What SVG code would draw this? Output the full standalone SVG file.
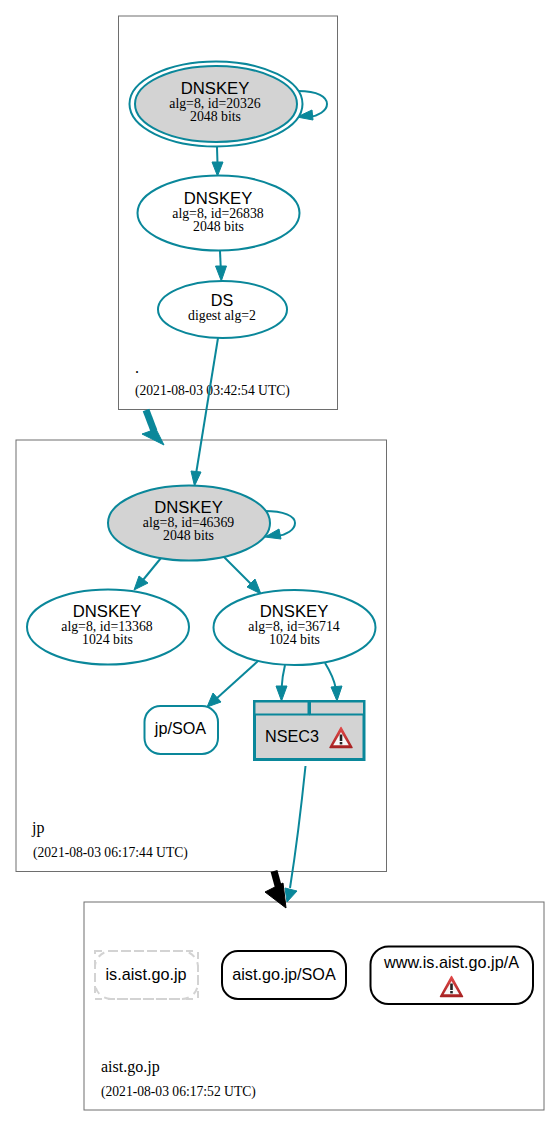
<svg xmlns="http://www.w3.org/2000/svg" width="560" height="1126" viewBox="0 0 560 1126">
<style>
.bg{fill:#fff}
.cl{fill:#fff;stroke:#6e6e6e;stroke-width:1}
.n{fill:#fff;stroke:#0a879a;stroke-width:2}
.g{fill:#d3d3d3;stroke:#0a879a;stroke-width:2}
.e{fill:none;stroke:#0a879a;stroke-width:2}
.h{fill:#0a879a;stroke:#0a879a;stroke-width:1}
.s{font-family:"Liberation Sans",Arial,sans-serif;font-size:16.200px;fill:#000;text-anchor:middle}
.k{font-size:16.700px}
.t{font-family:"Liberation Serif","Times New Roman",serif;font-size:13.800px;fill:#000;text-anchor:middle}
.l{font-family:"Liberation Serif","Times New Roman",serif;font-size:13.600px;fill:#000}
.l2{font-family:"Liberation Serif","Times New Roman",serif;font-size:16px;fill:#000}
</style>
<defs>
<linearGradient id="wg" x1="0" y1="0" x2="0" y2="1">
<stop offset="0" stop-color="#e04848"/>
<stop offset="1" stop-color="#a82222"/>
</linearGradient>
<g id="warn">
<polygon points="0,-10.500 11,9.500 -11,9.500" fill="url(#wg)" stroke="url(#wg)" stroke-width="1.500" stroke-linejoin="round"/>
<polygon points="0,-6 7.800,7.300 -7.800,7.300" fill="#f7f7f7"/>
<rect x="-1.300" y="-3.500" width="2.600" height="6.500" fill="#222"/>
<rect x="-1.300" y="4" width="2.600" height="2.400" fill="#222"/>
</g>
</defs>
<rect class="bg" width="560" height="1126"/>
<g id="clusters">
<rect class="cl" x="118.500" y="16" width="219" height="393.500"/>
<rect class="cl" x="16" y="440" width="370.500" height="431.500"/>
<rect class="cl" x="84" y="902" width="460" height="208"/>
<text class="l2" x="135" y="373">.</text>
<text class="l" x="135" y="395">(2021-08-03 03:42:54 UTC)</text>
<text class="l2" x="32" y="833">jp</text>
<text class="l" x="33" y="857">(2021-08-03 06:17:44 UTC)</text>
<text class="l2" x="101" y="1072">aist.go.jp</text>
<text class="l" x="101" y="1096">(2021-08-03 06:17:52 UTC)</text>
</g>
<g id="connectors">
<path class="e" d="M298,91C318,91 327,97 327,104C327,111 318,116 309,117"/>
<polygon class="h" points="297,117 312,110 313,120"/>
<path class="e" d="M217,147L217.500,164"/>
<polygon class="h" points="217.500,176 212,162 223,162"/>
<path class="e" d="M220,251L220.800,269"/>
<polygon class="h" points="221.300,281 215.500,266 226.500,266"/>
<path class="e" d="M218,338L196,474"/>
<polygon class="h" points="194.500,486 191,471 201,472"/>
<path class="e" d="M264,511C284,511 295,516 295,523C295,530 286,535 277,536"/>
<polygon class="h" points="265,537 279,529 281,539"/>
<path class="e" d="M161,558L143,580"/>
<polygon class="h" points="134,590 139,576 148,583"/>
<path class="e" d="M223,556L251,584"/>
<polygon class="h" points="261,594 247,587 255,579"/>
<path class="e" d="M258,661L216,699"/>
<polygon class="h" points="207,707 213,693 221,702"/>
<path class="e" d="M285,665C283,673 282,680 281.500,689"/>
<polygon class="h" points="281.500,701 276,686 287,686"/>
<path class="e" d="M325,663C330,671 334,679 336,689"/>
<polygon class="h" points="337,701 331,687 342,686"/>
<path class="e" d="M305.500,766C302,800 296,850 290,888"/>
<polygon class="h" points="287,902 285,888 297,891"/>
<path d="M146,410L154,431" fill="none" stroke="#0a879a" stroke-width="7"/>
<polygon class="h" points="164,445 142,434 156,429"/>
<path d="M274,871L280,893" fill="none" stroke="#000" stroke-width="7"/>
<polygon points="286,908 265,892 283,883" fill="#000" stroke="#000"/>
</g>
<g id="node-root-ksk">
<ellipse class="n" cx="216" cy="104" rx="86.500" ry="42.500"/>
<ellipse class="g" cx="216" cy="104" rx="81" ry="38"/>
<text class="s k" x="215" y="94">DNSKEY</text>
<text class="t" x="215" y="108">alg=8, id=20326</text>
<text class="t" x="215.500" y="121">2048 bits</text>
</g>
<g id="node-root-zsk">
<ellipse class="n" cx="218.500" cy="213" rx="81" ry="37.500"/>
<text class="s k" x="218" y="204">DNSKEY</text>
<text class="t" x="218" y="218">alg=8, id=26838</text>
<text class="t" x="218.500" y="231">2048 bits</text>
</g>
<g id="node-ds">
<ellipse class="n" cx="222.500" cy="309.500" rx="64.500" ry="28.500"/>
<text class="s" x="222" y="306">DS</text>
<text class="t" x="222" y="320">digest alg=2</text>
</g>
<g id="node-jp-ksk">
<ellipse class="g" cx="189" cy="523" rx="81" ry="37.500"/>
<text class="s k" x="188.500" y="513">DNSKEY</text>
<text class="t" x="188.500" y="527">alg=8, id=46369</text>
<text class="t" x="188.500" y="540">2048 bits</text>
</g>
<g id="node-jp-zsk1">
<ellipse class="n" cx="108" cy="627" rx="81" ry="37.500"/>
<text class="s k" x="107" y="617">DNSKEY</text>
<text class="t" x="107" y="631">alg=8, id=13368</text>
<text class="t" x="107.500" y="644">1024 bits</text>
</g>
<g id="node-jp-zsk2">
<ellipse class="n" cx="294.500" cy="627.500" rx="81" ry="37.500"/>
<text class="s k" x="294" y="617">DNSKEY</text>
<text class="t" x="294" y="631">alg=8, id=36714</text>
<text class="t" x="294.500" y="644">1024 bits</text>
</g>
<g id="node-jp-soa">
<rect class="n" x="144.500" y="706" width="73.500" height="48" rx="16"/>
<text class="s" x="180.500" y="734">jp/SOA</text>
</g>
<g id="node-nsec3">
<rect x="254.500" y="701.500" width="109.500" height="58" fill="#d3d3d3" stroke="#0a879a" stroke-width="3"/>
<rect x="254.500" y="701.500" width="54" height="13" fill="#d3d3d3" stroke="#0a879a" stroke-width="2"/>
<rect x="310" y="701.500" width="54" height="13" fill="#d3d3d3" stroke="#0a879a" stroke-width="2"/>
<text class="s" x="292" y="742">NSEC3</text>
<use href="#warn" x="341" y="738"/>
</g>
<g id="node-is-aist">
<rect x="95" y="951" width="103" height="48" rx="16" fill="none" stroke="#d3d3d3" stroke-width="2" stroke-dasharray="7 6"/>
<rect x="95" y="951" width="103" height="48" fill="none" stroke="#d3d3d3" stroke-width="2" stroke-dasharray="7 6"/>
<text class="s" x="146" y="980">is.aist.go.jp</text>
</g>
<g id="node-aist-soa">
<rect x="222" y="951" width="124" height="48" rx="16" fill="#fff" stroke="#000" stroke-width="2"/>
<text class="s" x="284" y="980">aist.go.jp/SOA</text>
</g>
<g id="node-www">
<rect x="370.500" y="946.500" width="162.500" height="57.500" rx="18" fill="#fff" stroke="#000" stroke-width="2"/>
<text class="s" x="451.500" y="968">www.is.aist.go.jp/A</text>
<use href="#warn" x="451.500" y="987"/>
</g>
</svg>
